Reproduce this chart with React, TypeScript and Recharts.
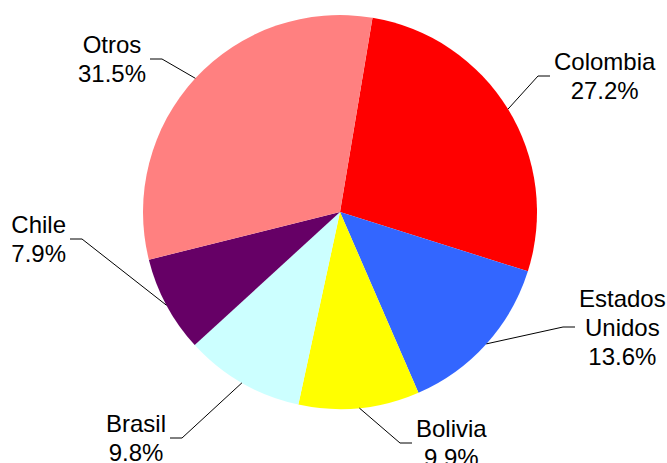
import { PieChart, Pie, Cell } from 'recharts';

const NAMES = ['Colombia', 'Estados Unidos', 'Bolivia', 'Brasil', 'Chile', 'Otros'];
const VALUES = [27.2, 13.6, 9.9, 9.8, 7.9, 31.5];
const COLORS = ['#FF0000', '#3366FF', '#FFFF00', '#CCFFFF', '#660066', '#FF8080'];

// elbow of each leader line, relative to the pie centre
const ELBOWS = [
  { dx: 198, dy: -136, side: 1 },
  { dx: 223, dy: 115, side: 1 },
  { dx: 60, dy: 231, side: 1 },
  { dx: -158, dy: 226, side: -1 },
  { dx: -258, dy: 27, side: -1 },
  { dx: -178, dy: -153, side: -1 },
];

const data = NAMES.map((name, i) => ({ name, value: VALUES[i] }));

const FONT = '"Liberation Sans", Arial, sans-serif';
const FONT_SIZE = 24;
const LINE_H = 29;

let ctx: CanvasRenderingContext2D | null = null;
function textWidth(s: string) {
  if (!ctx) ctx = document.createElement('canvas').getContext('2d');
  if (!ctx) return s.length * 12;
  ctx.font = `${FONT_SIZE}px ${FONT}`;
  return ctx.measureText(s).width;
}

const RAD = Math.PI / 180;

function renderLabel(props: any) {
  const { cx, cy, midAngle, outerRadius, index } = props;
  const e = ELBOWS[index];
  const sx = cx + outerRadius * Math.cos(-midAngle * RAD);
  const sy = cy + outerRadius * Math.sin(-midAngle * RAD);
  const ex = cx + e.dx;
  const ey = cy + e.dy;
  const hx = ex + e.side * 12;
  const lines = [...NAMES[index].split(' '), VALUES[index].toFixed(1) + '%'];
  const w = Math.max(...lines.map(textWidth));
  const tx = hx + e.side * (4 + w / 2);
  return (
    <g key={`lbl-${index}`}>
      <polyline points={`${sx},${sy} ${ex},${ey} ${hx},${ey}`} fill="none" stroke="#000" strokeWidth={1} />
      {lines.map((l, i) => (
        <text
          key={i}
          x={tx}
          y={ey + (i - (lines.length - 1) / 2) * LINE_H}
          textAnchor="middle"
          dominantBaseline="central"
          fontFamily={FONT}
          fontSize={FONT_SIZE}
          fill="#000"
        >
          {l}
        </text>
      ))}
    </g>
  );
}

export default function App() {
  return (
    <div style={{ position: 'fixed', left: 0, top: 0, background: '#fff' }}>
      <PieChart width={667} height={463} margin={{ top: 0, right: 0, bottom: 0, left: 0 }}>
        <Pie
          data={data}
          dataKey="value"
          nameKey="name"
          cx={340}
          cy={212}
          outerRadius={197}
          startAngle={80.5}
          endAngle={-279.5}
          stroke="none"
          label={renderLabel}
          labelLine={false}
          isAnimationActive={false}
        >
          {data.map((_, i) => (
            <Cell key={i} fill={COLORS[i]} />
          ))}
        </Pie>
      </PieChart>
    </div>
  );
}
